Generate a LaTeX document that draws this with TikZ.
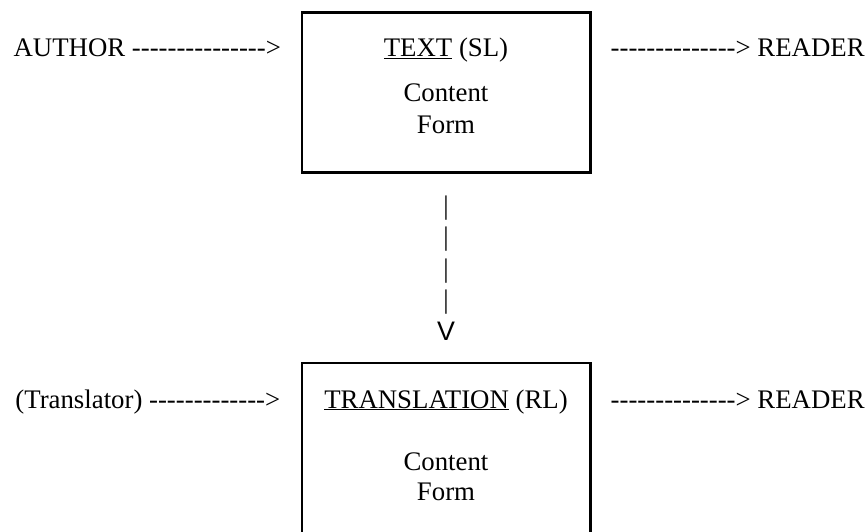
\documentclass[tikz,border=0pt]{standalone}
\usepackage{fontspec}
\setmainfont{Liberation Serif}[Ligatures=TeXOff]
\newfontfamily\arrowfont{Liberation Sans}[Ligatures=TeXOff]
\begin{document}
\begin{tikzpicture}[
    x=1pt, y=-1pt,
    every node/.style={inner sep=0pt, outer sep=0pt,
      font=\fontsize{26.8}{31.4}\selectfont},
    boxframe/.style={draw, line width=2.7pt,
      minimum width=288.7pt, minimum height=160pt},
    leftlabel/.style={anchor=base west},
    centred/.style={anchor=base}
  ]
  \useasboundingbox (0,0) rectangle (868,531);
  \clip (0,0) rectangle (868,531);

  % source-language box
  \node[boxframe] (srcbox) at (446.3,92.7) {};
  \node[centred] (srctitle) at (446,56.8) {\underline{TEXT} (SL)};
  \node[centred] (srccontent) at (446,101.7) {Content};
  \node[centred] (srcform) at (446,133.3) {Form};

  % receptor-language box (runs off the bottom edge)
  \node[boxframe, minimum height=200pt] (tgtbox) at (446.3,463) {};
  \node[centred] (tgttitle) at (446,408) {\underline{TRANSLATION} (RL)};
  \node[centred] (tgtcontent) at (446,470) {Content};
  \node[centred] (tgtform) at (446,500) {Form};

  % typed arrows of the top row
  \node[leftlabel] (author) at (13.6,56.5) {AUTHOR --------------->};
  \node[leftlabel] (reader1) at (610.7,56.5) {--------------> READER};

  % typed arrows of the bottom row
  \node[leftlabel] (translator) at (15.4,408) {(Translator) ------------->};
  \node[leftlabel] (reader2) at (610.7,408) {--------------> READER};

  % typed downward arrow between the boxes (base = last line, the V)
  \node[centred, align=center]
    (down) at (446,340) {|\\|\\|\\|\\{\arrowfont V}};
\end{tikzpicture}
\end{document}
